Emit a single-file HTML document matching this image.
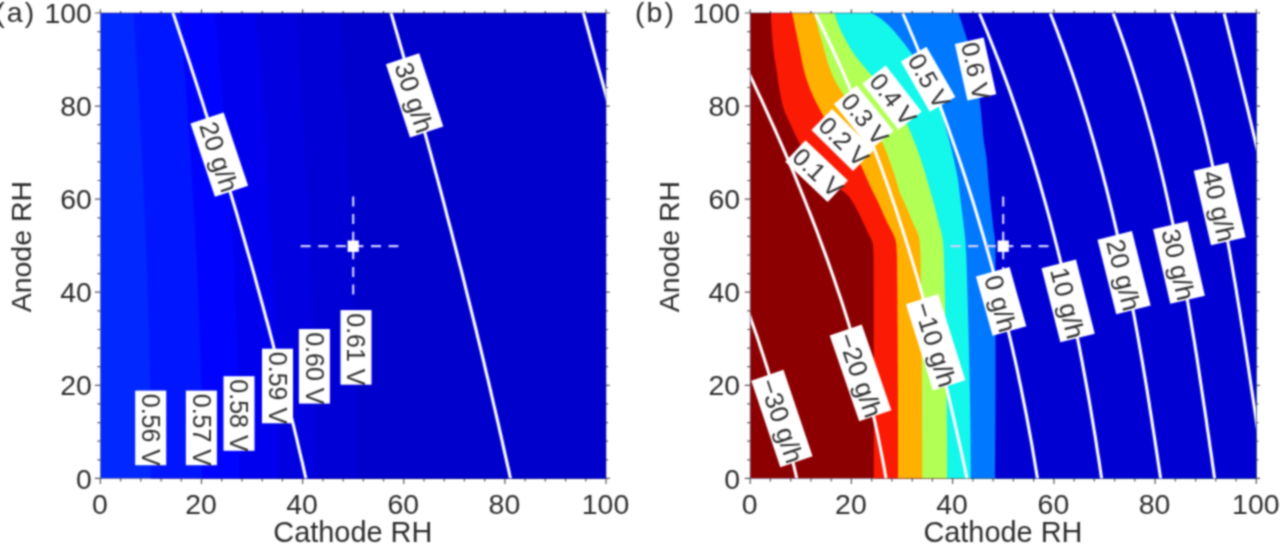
<!DOCTYPE html>
<html lang="en"><head><meta charset="utf-8"><title>Contour maps: cell voltage and water balance vs. cathode / anode RH</title>
<style>html,body{margin:0;padding:0;background:#fff;}body{width:1280px;height:545px;overflow:hidden;}svg{display:block;font-family:'Liberation Sans', sans-serif;}</style></head><body>
<svg width="1280" height="545" viewBox="0 0 1280 545">
<defs>
<clipPath id="ca"><rect x="100.4" y="13" width="505.6" height="465.4"/></clipPath>
<clipPath id="cb"><rect x="750.2" y="13" width="506.1" height="465.4"/></clipPath>
<filter id="soft" x="0" y="0" width="1280" height="545" filterUnits="userSpaceOnUse" color-interpolation-filters="sRGB"><feConvolveMatrix order="5" kernelMatrix="9 69 139 69 9 69 554 1107 554 69 139 1107 2211 1107 139 69 554 1107 554 69 9 69 139 69 9" divisor="9999" edgeMode="duplicate" preserveAlpha="true"/></filter>
</defs>
<g filter="url(#soft)">
<rect x="-10" y="-10" width="1300" height="565" fill="#fff"/>
<g clip-path="url(#ca)">
<rect x="100.4" y="13" width="505.6" height="465.4" fill="#0028ff"/>
<polygon points="133.6,12 134.2,19.9 134.7,27.8 135.2,35.8 135.7,43.7 136.2,51.6 136.6,59.5 137.1,67.5 137.6,75.4 138.1,83.3 138.5,91.2 139,99.1 139.4,107.1 139.9,115 140.3,122.9 140.7,130.8 141.2,138.8 141.6,146.7 142,154.6 142.4,162.5 142.8,170.4 143.2,178.4 143.5,186.3 143.9,194.2 144.3,202.1 144.6,210.1 145,218 145.3,225.9 145.7,233.8 146,241.7 146.3,249.7 146.6,257.6 146.9,265.5 147.2,273.4 147.5,281.3 147.8,289.3 148,297.2 148.3,305.1 148.5,313 148.8,321 149,328.9 149.2,336.8 149.4,344.7 149.6,352.6 149.8,360.6 149.9,368.5 150.1,376.4 150.2,384.3 150.4,392.3 150.5,400.2 150.6,408.1 150.6,416 150.7,423.9 150.7,431.9 150.7,439.8 150.7,447.7 150.7,455.6 150.7,463.6 150.7,471.5 150.7,479.4 608,478.4 608,13" fill="#0016ff"/>
<polygon points="179.6,12 180.3,19.9 180.9,27.8 181.6,35.8 182.2,43.7 182.9,51.6 183.5,59.5 184.1,67.5 184.7,75.4 185.4,83.3 185.9,91.2 186.5,99.1 187.1,107.1 187.7,115 188.3,122.9 188.8,130.8 189.4,138.8 189.9,146.7 190.4,154.6 190.9,162.5 191.4,170.4 191.9,178.4 192.4,186.3 192.9,194.2 193.4,202.1 193.8,210.1 194.3,218 194.7,225.9 195.2,233.8 195.6,241.7 196,249.7 196.4,257.6 196.8,265.5 197.2,273.4 197.5,281.3 197.9,289.3 198.2,297.2 198.6,305.1 198.9,313 199.2,321 199.5,328.9 199.8,336.8 200,344.7 200.3,352.6 200.5,360.6 200.7,368.5 200.9,376.4 201.1,384.3 201.3,392.3 201.4,400.2 201.5,408.1 201.6,416 201.7,423.9 201.7,431.9 201.7,439.8 201.7,447.7 201.7,455.6 201.7,463.6 201.7,471.5 201.7,479.4 608,478.4 608,13" fill="#0004ff"/>
<polygon points="214.9,12 215.6,19.9 216.4,27.8 217.1,35.8 217.8,43.7 218.5,51.6 219.2,59.5 219.8,67.5 220.5,75.4 221.2,83.3 221.8,91.2 222.5,99.1 223.1,107.1 223.7,115 224.3,122.9 224.9,130.8 225.5,138.8 226.1,146.7 226.7,154.6 227.3,162.5 227.8,170.4 228.4,178.4 228.9,186.3 229.4,194.2 229.9,202.1 230.4,210.1 230.9,218 231.4,225.9 231.9,233.8 232.3,241.7 232.8,249.7 233.2,257.6 233.6,265.5 234.1,273.4 234.5,281.3 234.8,289.3 235.2,297.2 235.6,305.1 235.9,313 236.3,321 236.6,328.9 236.9,336.8 237.2,344.7 237.4,352.6 237.7,360.6 237.9,368.5 238.1,376.4 238.3,384.3 238.5,392.3 238.7,400.2 238.8,408.1 238.9,416 239,423.9 239,431.9 239,439.8 239,447.7 239,455.6 239,463.6 239,471.5 239,479.4 608,478.4 608,13" fill="#0000ee"/>
<polygon points="255.4,12 256.1,19.9 256.7,27.8 257.4,35.8 258,43.7 258.7,51.6 259.3,59.5 259.9,67.5 260.5,75.4 261.2,83.3 261.7,91.2 262.3,99.1 262.9,107.1 263.5,115 264.1,122.9 264.6,130.8 265.2,138.8 265.7,146.7 266.2,154.6 266.7,162.5 267.2,170.4 267.7,178.4 268.2,186.3 268.7,194.2 269.2,202.1 269.6,210.1 270.1,218 270.5,225.9 271,233.8 271.4,241.7 271.8,249.7 272.2,257.6 272.6,265.5 273,273.4 273.3,281.3 273.7,289.3 274,297.2 274.4,305.1 274.7,313 275,321 275.3,328.9 275.6,336.8 275.8,344.7 276.1,352.6 276.3,360.6 276.5,368.5 276.7,376.4 276.9,384.3 277.1,392.3 277.2,400.2 277.3,408.1 277.4,416 277.5,423.9 277.5,431.9 277.5,439.8 277.5,447.7 277.5,455.6 277.5,463.6 277.5,471.5 277.5,479.4 608,478.4 608,13" fill="#0000e0"/>
<polygon points="296.3,12 296.9,19.9 297.4,27.8 298,35.8 298.5,43.7 299,51.6 299.5,59.5 300,67.5 300.5,75.4 301,83.3 301.5,91.2 302,99.1 302.5,107.1 302.9,115 303.4,122.9 303.9,130.8 304.3,138.8 304.7,146.7 305.2,154.6 305.6,162.5 306,170.4 306.4,178.4 306.8,186.3 307.2,194.2 307.6,202.1 308,210.1 308.3,218 308.7,225.9 309.1,233.8 309.4,241.7 309.7,249.7 310.1,257.6 310.4,265.5 310.7,273.4 311,281.3 311.3,289.3 311.6,297.2 311.8,305.1 312.1,313 312.3,321 312.6,328.9 312.8,336.8 313,344.7 313.2,352.6 313.4,360.6 313.6,368.5 313.8,376.4 313.9,384.3 314,392.3 314.2,400.2 314.3,408.1 314.3,416 314.4,423.9 314.4,431.9 314.4,439.8 314.4,447.7 314.4,455.6 314.4,463.6 314.4,471.5 314.4,479.4 608,478.4 608,13" fill="#0000d6"/>
<polygon points="339.9,12 340.4,19.9 340.9,27.8 341.4,35.8 341.9,43.7 342.3,51.6 342.8,59.5 343.2,67.5 343.7,75.4 344.1,83.3 344.5,91.2 345,99.1 345.4,107.1 345.8,115 346.2,122.9 346.6,130.8 347,138.8 347.4,146.7 347.8,154.6 348.2,162.5 348.5,170.4 348.9,178.4 349.3,186.3 349.6,194.2 350,202.1 350.3,210.1 350.6,218 350.9,225.9 351.3,233.8 351.6,241.7 351.9,249.7 352.1,257.6 352.4,265.5 352.7,273.4 353,281.3 353.2,289.3 353.5,297.2 353.7,305.1 353.9,313 354.2,321 354.4,328.9 354.6,336.8 354.8,344.7 355,352.6 355.1,360.6 355.3,368.5 355.4,376.4 355.6,384.3 355.7,392.3 355.8,400.2 355.9,408.1 355.9,416 356,423.9 356,431.9 356,439.8 356,447.7 356,455.6 356,463.6 356,471.5 356,479.4 608,478.4 608,13" fill="#0000cd"/>
<polyline points="171.9,10 174,16 176,22.1 178,28.1 180.1,34.2 182.1,40.2 184.1,46.2 186.1,52.3 188.1,58.3 190.1,64.3 192.1,70.4 194.1,76.4 196,82.5 198,88.5 199.9,94.5 201.9,100.6 203.8,106.6 205.7,112.7 207.7,118.7 209.6,124.7 211.5,130.8 213.4,136.8 215.2,142.8 217.1,148.9 219,154.9 220.8,161 222.7,167 224.5,173 226.4,179.1 228.2,185.1 230,191.2 231.8,197.2 233.6,203.2 235.4,209.3 237.2,215.3 238.9,221.3 240.7,227.4 242.4,233.4 244.2,239.5 245.9,245.5 247.6,251.5 249.4,257.6 251.1,263.6 252.8,269.7 254.5,275.7 256.1,281.7 257.8,287.8 259.5,293.8 261.1,299.8 262.8,305.9 264.4,311.9 266,318 267.7,324 269.3,330 270.9,336.1 272.5,342.1 274,348.2 275.6,354.2 277.2,360.2 278.7,366.3 280.3,372.3 281.8,378.3 283.3,384.4 284.9,390.4 286.4,396.5 287.9,402.5 289.4,408.5 290.8,414.6 292.3,420.6 293.8,426.7 295.2,432.7 296.7,438.7 298.1,444.8 299.5,450.8 300.9,456.8 302.4,462.9 303.7,468.9 305.1,475 306.5,481" fill="none" stroke="#fdfdff" stroke-width="3.1"/>
<polyline points="390.2,10 391.9,16 393.7,22.1 395.4,28.1 397.2,34.2 398.9,40.2 400.6,46.2 402.4,52.3 404.1,58.3 405.8,64.3 407.5,70.4 409.2,76.4 410.9,82.5 412.6,88.5 414.3,94.5 416,100.6 417.7,106.6 419.4,112.7 421,118.7 422.7,124.7 424.4,130.8 426,136.8 427.7,142.8 429.3,148.9 431,154.9 432.6,161 434.2,167 435.8,173 437.5,179.1 439.1,185.1 440.7,191.2 442.3,197.2 443.9,203.2 445.5,209.3 447,215.3 448.6,221.3 450.2,227.4 451.8,233.4 453.3,239.5 454.9,245.5 456.4,251.5 458,257.6 459.5,263.6 461.1,269.7 462.6,275.7 464.1,281.7 465.6,287.8 467.1,293.8 468.6,299.8 470.1,305.9 471.6,311.9 473.1,318 474.6,324 476.1,330 477.5,336.1 479,342.1 480.5,348.2 481.9,354.2 483.4,360.2 484.8,366.3 486.2,372.3 487.7,378.3 489.1,384.4 490.5,390.4 491.9,396.5 493.3,402.5 494.7,408.5 496.1,414.6 497.5,420.6 498.9,426.7 500.2,432.7 501.6,438.7 503,444.8 504.3,450.8 505.7,456.8 507,462.9 508.4,468.9 509.7,475 511,481" fill="none" stroke="#fdfdff" stroke-width="3.1"/>
<polyline points="582.6,10 584.3,16.2 586,22.3 587.7,28.5 589.4,34.7 591,40.8 592.7,47 594.4,53.2 596.1,59.3 597.8,65.5 599.5,71.7 601.2,77.8 602.9,84 604.6,90.2 606.2,96.3 607.9,102.5 609.6,108.7 611.3,114.8 613,121" fill="none" stroke="#fdfdff" stroke-width="3.1"/>
<g stroke="#d0d0ff" stroke-width="2.2" stroke-dasharray="10 7.6" fill="none">
<path d="M300.6 246.2H398.4"/>
<path d="M353.2 196.5V294.4"/>
</g>
<rect x="347.6" y="240.5" width="11.2" height="11.4" fill="#fff"/>
<g transform="translate(150.7 427.9) rotate(90)">
<rect x="-37.3" y="-15.5" width="74.6" height="31" fill="#fff"/>
<text x="2" y="8.8" font-size="25" text-anchor="middle" fill="#2e2e2e">0.56 V</text>
</g>
<g transform="translate(201.4 427.9) rotate(90)">
<rect x="-37.3" y="-15.5" width="74.6" height="31" fill="#fff"/>
<text x="2" y="8.8" font-size="25" text-anchor="middle" fill="#2e2e2e">0.57 V</text>
</g>
<g transform="translate(239 413.5) rotate(90)">
<rect x="-37.3" y="-15.5" width="74.6" height="31" fill="#fff"/>
<text x="2" y="8.8" font-size="25" text-anchor="middle" fill="#2e2e2e">0.58 V</text>
</g>
<g transform="translate(277.5 386) rotate(90)">
<rect x="-37.3" y="-15.5" width="74.6" height="31" fill="#fff"/>
<text x="2" y="8.8" font-size="25" text-anchor="middle" fill="#2e2e2e">0.59 V</text>
</g>
<g transform="translate(314.4 366.3) rotate(90)">
<rect x="-37.3" y="-15.5" width="74.6" height="31" fill="#fff"/>
<text x="2" y="8.8" font-size="25" text-anchor="middle" fill="#2e2e2e">0.60 V</text>
</g>
<g transform="translate(356 347.4) rotate(90)">
<rect x="-37.3" y="-15.5" width="74.6" height="31" fill="#fff"/>
<text x="2" y="8.8" font-size="25" text-anchor="middle" fill="#2e2e2e">0.61 V</text>
</g>
<g transform="translate(219.3 154.6) rotate(71.5)">
<rect x="-38.6" y="-17.5" width="77.2" height="35" fill="#fff"/>
<text x="2" y="10.1" font-size="26" text-anchor="middle" fill="#2e2e2e">20 g/h</text>
</g>
<g transform="translate(414.6 95.4) rotate(71.8)">
<rect x="-38.6" y="-17.5" width="77.2" height="35" fill="#fff"/>
<text x="2" y="10.1" font-size="26" text-anchor="middle" fill="#2e2e2e">30 g/h</text>
</g>
</g>
<path d="M100.4 478.4v5.5M100.4 13v-3.8M100.4 478.4h-5.5M606 478.4h3.8M120.6 478.4v3M120.6 13v-2.1M100.4 459.8h-3M606 459.8h2.1M140.8 478.4v3M140.8 13v-2.1M100.4 441.2h-3M606 441.2h2.1M161.1 478.4v3M161.1 13v-2.1M100.4 422.6h-3M606 422.6h2.1M181.3 478.4v3M181.3 13v-2.1M100.4 403.9h-3M606 403.9h2.1M201.5 478.4v5.5M201.5 13v-3.8M100.4 385.3h-5.5M606 385.3h3.8M221.7 478.4v3M221.7 13v-2.1M100.4 366.7h-3M606 366.7h2.1M242 478.4v3M242 13v-2.1M100.4 348.1h-3M606 348.1h2.1M262.2 478.4v3M262.2 13v-2.1M100.4 329.5h-3M606 329.5h2.1M282.4 478.4v3M282.4 13v-2.1M100.4 310.9h-3M606 310.9h2.1M302.6 478.4v5.5M302.6 13v-3.8M100.4 292.2h-5.5M606 292.2h3.8M322.9 478.4v3M322.9 13v-2.1M100.4 273.6h-3M606 273.6h2.1M343.1 478.4v3M343.1 13v-2.1M100.4 255h-3M606 255h2.1M363.3 478.4v3M363.3 13v-2.1M100.4 236.4h-3M606 236.4h2.1M383.5 478.4v3M383.5 13v-2.1M100.4 217.8h-3M606 217.8h2.1M403.8 478.4v5.5M403.8 13v-3.8M100.4 199.2h-5.5M606 199.2h3.8M424 478.4v3M424 13v-2.1M100.4 180.5h-3M606 180.5h2.1M444.2 478.4v3M444.2 13v-2.1M100.4 161.9h-3M606 161.9h2.1M464.4 478.4v3M464.4 13v-2.1M100.4 143.3h-3M606 143.3h2.1M484.7 478.4v3M484.7 13v-2.1M100.4 124.7h-3M606 124.7h2.1M504.9 478.4v5.5M504.9 13v-3.8M100.4 106.1h-5.5M606 106.1h3.8M525.1 478.4v3M525.1 13v-2.1M100.4 87.5h-3M606 87.5h2.1M545.3 478.4v3M545.3 13v-2.1M100.4 68.8h-3M606 68.8h2.1M565.6 478.4v3M565.6 13v-2.1M100.4 50.2h-3M606 50.2h2.1M585.8 478.4v3M585.8 13v-2.1M100.4 31.6h-3M606 31.6h2.1M606 478.4v5.5M606 13v-3.8M100.4 13h-5.5M606 13h3.8" stroke="#555" stroke-width="1.2" fill="none"/>
<rect x="100.4" y="13" width="505.6" height="465.4" fill="none" stroke="#101040" stroke-opacity="0.55" stroke-width="0.8"/>
<g font-size="28.4" fill="#2b2b2b">
<text x="99.9" y="514.3" text-anchor="middle">0</text>
<text x="91.8" y="488.5" text-anchor="end">0</text>
<text x="201" y="514.3" text-anchor="middle">20</text>
<text x="91.8" y="395.4" text-anchor="end">20</text>
<text x="302.1" y="514.3" text-anchor="middle">40</text>
<text x="91.8" y="302.3" text-anchor="end">40</text>
<text x="403.3" y="514.3" text-anchor="middle">60</text>
<text x="91.8" y="209.3" text-anchor="end">60</text>
<text x="504.4" y="514.3" text-anchor="middle">80</text>
<text x="91.8" y="116.2" text-anchor="end">80</text>
<text x="605.5" y="514.3" text-anchor="middle">100</text>
<text x="91.8" y="23.1" text-anchor="end">100</text>
</g>
<text x="352.8" y="542.2" font-size="28.9" text-anchor="middle" fill="#2b2b2b">Cathode RH</text>
<text transform="translate(30.5 246.6) rotate(-90)" font-size="28.5" text-anchor="middle" fill="#2b2b2b">Anode RH</text>
<text x="-4.8" y="21.8" font-size="28.5" letter-spacing="2.1" fill="#2b2b2b">(a)</text>
<g clip-path="url(#cb)">
<rect x="750.2" y="13" width="506.1" height="465.4" fill="#8c0002"/>
<polygon points="771,12 771,16 771.2,20 771.3,24 771.6,28 771.8,32 772.1,36 772.5,40 772.8,44 773.2,48 773.6,51.9 774.1,55.9 774.8,59.9 775.5,63.9 776.2,67.9 776.8,71.9 777.4,75.9 777.9,79.9 778.5,83.9 779.1,87.9 779.8,91.9 780.6,95.9 781.4,99.9 782.3,103.9 783.4,107.9 784.7,111.9 786.5,115.9 788.5,119.9 790.3,123.9 792.1,127.9 793.9,131.8 795.7,135.8 797.7,139.8 799.7,143.8 801.7,147.8 803.8,151.8 806,155.8 808.3,159.8 810.9,163.8 813.8,167.8 817.1,171.8 821.7,175.8 827.3,179.8 833,183.8 838.4,187.8 843.8,191.8 848.3,195.8 851.3,199.8 853.7,203.8 855.9,207.7 858,211.7 860,215.7 861.9,219.7 863.8,223.7 865.6,227.7 867.4,231.7 869.4,235.7 871.4,239.7 872.8,243.7 873.2,247.7 873.4,251.7 873.5,255.7 873.6,259.7 873.6,263.7 873.6,267.7 873.6,271.7 873.6,275.7 873.6,279.7 873.6,283.7 873.7,287.6 873.7,291.6 873.7,295.6 873.7,299.6 873.7,303.6 873.7,307.6 873.7,311.6 873.7,315.6 873.7,319.6 873.7,323.6 873.7,327.6 873.7,331.6 873.7,335.6 873.7,339.6 873.7,343.6 873.7,347.6 873.8,351.6 873.8,355.6 873.8,359.6 873.8,363.5 873.8,367.5 873.8,371.5 873.8,375.5 873.8,379.5 873.8,383.5 873.8,387.5 873.8,391.5 873.8,395.5 873.8,399.5 873.8,403.5 873.8,407.5 873.8,411.5 873.8,415.5 873.8,419.5 873.8,423.5 873.8,427.5 873.8,431.5 873.8,435.5 873.8,439.5 873.8,443.4 873.8,447.4 873.8,451.4 873.8,455.4 873.8,459.4 873.8,463.4 873.8,467.4 873.8,471.4 873.8,475.4 873.8,479.4 1258.3,479.4 1258.3,12" fill="#fb1a04"/>
<polygon points="791.9,12 792.7,16 793.6,20 794.4,24 795.2,28 796.1,32 796.9,36 797.7,40 798.6,44 799.4,48 800.2,51.9 801,55.9 801.7,59.9 802.5,63.9 803.4,67.9 804.4,71.9 805.5,75.9 806.8,79.9 808.2,83.9 809.7,87.9 811.3,91.9 813,95.9 814.9,99.9 817,103.9 819.1,107.9 821.2,111.9 823.4,115.9 825.9,119.9 828.8,123.9 832,127.9 835.5,131.8 839,135.8 842.4,139.8 845.7,143.8 849.2,147.8 852.6,151.8 855.6,155.8 858.1,159.8 860.1,163.8 862,167.8 863.8,171.8 865.6,175.8 867.3,179.8 869.1,183.8 870.9,187.8 872.9,191.8 874.9,195.8 876.9,199.8 878.8,203.8 880.6,207.7 882.4,211.7 884.1,215.7 885.9,219.7 887.8,223.7 890,227.7 892.1,231.7 894,235.7 895.5,239.7 896.3,243.7 896.5,247.7 896.7,251.7 896.9,255.7 897,259.7 897,263.7 897.1,267.7 897.1,271.7 897.1,275.7 897.2,279.7 897.2,283.7 897.3,287.6 897.3,291.6 897.3,295.6 897.4,299.6 897.4,303.6 897.4,307.6 897.4,311.6 897.5,315.6 897.5,319.6 897.5,323.6 897.6,327.6 897.6,331.6 897.6,335.6 897.6,339.6 897.7,343.6 897.7,347.6 897.7,351.6 897.7,355.6 897.7,359.6 897.8,363.5 897.8,367.5 897.8,371.5 897.8,375.5 897.8,379.5 897.8,383.5 897.9,387.5 897.9,391.5 897.9,395.5 897.9,399.5 897.9,403.5 897.9,407.5 897.9,411.5 897.9,415.5 897.9,419.5 898,423.5 898,427.5 898,431.5 898,435.5 898,439.5 898,443.4 898,447.4 898,451.4 898,455.4 898,459.4 898,463.4 898,467.4 898,471.4 898,475.4 898,479.4 1258.3,479.4 1258.3,12" fill="#ffb000"/>
<polygon points="813.7,12 814.8,16 815.9,20 817,24 818.1,28 819.2,32 820.3,36 821.4,40 822.6,44 823.6,48 824.7,51.9 825.8,55.9 826.9,59.9 828.2,63.9 829.5,67.9 831.1,71.9 832.8,75.9 834.7,79.9 836.9,83.9 839.2,87.9 841.8,91.9 844.7,95.9 848.1,99.9 851.6,103.9 855.3,107.9 858.9,111.9 862.4,115.9 865.6,119.9 869,123.9 872.4,127.9 875.6,131.8 878.5,135.8 880.9,139.8 882.9,143.8 884.6,147.8 886.2,151.8 887.7,155.8 889.1,159.8 890.6,163.8 892,167.8 893.4,171.8 894.7,175.8 895.9,179.8 897.1,183.8 898.2,187.8 899.4,191.8 901.1,195.8 903,199.8 904.8,203.8 906.5,207.7 908.2,211.7 909.9,215.7 911.6,219.7 913.2,223.7 915.1,227.7 917,231.7 918.5,235.7 919.5,239.7 919.9,243.7 920.1,247.7 920.3,251.7 920.5,255.7 920.6,259.7 920.6,263.7 920.7,267.7 920.7,271.7 920.8,275.7 920.9,279.7 920.9,283.7 921,287.6 921,291.6 921.1,295.6 921.1,299.6 921.2,303.6 921.2,307.6 921.3,311.6 921.3,315.6 921.4,319.6 921.4,323.6 921.5,327.6 921.5,331.6 921.5,335.6 921.6,339.6 921.6,343.6 921.6,347.6 921.7,351.6 921.7,355.6 921.7,359.6 921.8,363.5 921.8,367.5 921.8,371.5 921.9,375.5 921.9,379.5 921.9,383.5 921.9,387.5 922,391.5 922,395.5 922,399.5 922,403.5 922,407.5 922.1,411.5 922.1,415.5 922.1,419.5 922.1,423.5 922.1,427.5 922.1,431.5 922.1,435.5 922.2,439.5 922.2,443.4 922.2,447.4 922.2,451.4 922.2,455.4 922.2,459.4 922.2,463.4 922.2,467.4 922.2,471.4 922.2,475.4 922.2,479.4 1258.3,479.4 1258.3,12" fill="#b2ff55"/>
<polygon points="834.1,12 835.3,16 836.6,20 838.1,24 839.8,28 841.6,32 843.6,36 845.7,40 847.9,44 850.2,48 852.7,51.9 855.5,55.9 858.6,59.9 861.9,63.9 865.2,67.9 868.5,71.9 872.2,75.9 876,79.9 879.9,83.9 883.8,87.9 887.4,91.9 890.7,95.9 893.5,99.9 896.1,103.9 898.5,107.9 900.8,111.9 902.9,115.9 904.9,119.9 906.8,123.9 908.6,127.9 910.3,131.8 911.9,135.8 913.5,139.8 915.1,143.8 916.6,147.8 918.1,151.8 919.6,155.8 921,159.8 922.3,163.8 923.5,167.8 924.7,171.8 925.9,175.8 927,179.8 928.2,183.8 929.3,187.8 930.5,191.8 931.7,195.8 932.8,199.8 933.9,203.8 935,207.7 936,211.7 937,215.7 937.9,219.7 939,223.7 940.1,227.7 941.1,231.7 942.1,235.7 942.8,239.7 943.1,243.7 943.4,247.7 943.6,251.7 943.8,255.7 943.9,259.7 944,263.7 944.1,267.7 944.3,271.7 944.4,275.7 944.5,279.7 944.5,283.7 944.6,287.6 944.7,291.6 944.8,295.6 944.9,299.6 945,303.6 945.1,307.6 945.2,311.6 945.3,315.6 945.4,319.6 945.4,323.6 945.5,327.6 945.6,331.6 945.7,335.6 945.8,339.6 945.8,343.6 945.9,347.6 946,351.6 946,355.6 946.1,359.6 946.2,363.5 946.2,367.5 946.3,371.5 946.3,375.5 946.4,379.5 946.5,383.5 946.5,387.5 946.6,391.5 946.6,395.5 946.6,399.5 946.7,403.5 946.7,407.5 946.8,411.5 946.8,415.5 946.8,419.5 946.9,423.5 946.9,427.5 946.9,431.5 947,435.5 947,439.5 947,443.4 947,447.4 947,451.4 947.1,455.4 947.1,459.4 947.1,463.4 947.1,467.4 947.1,471.4 947.1,475.4 947.1,479.4 1258.3,479.4 1258.3,12" fill="#14f7eb"/>
<polygon points="870.4,12 876.8,16 882.5,20 887.2,24 891.2,28 894.8,32 898.1,36 901.4,40 904.6,44 907.5,48 910.4,51.9 913.3,55.9 916.1,59.9 918.9,63.9 921.5,67.9 924,71.9 926.3,75.9 928.5,79.9 930.4,83.9 932.3,87.9 934,91.9 935.6,95.9 937.2,99.9 938.6,103.9 940,107.9 941.3,111.9 942.5,115.9 943.6,119.9 944.7,123.9 945.8,127.9 946.9,131.8 948,135.8 949,139.8 950.1,143.8 951.1,147.8 952.1,151.8 953,155.8 954,159.8 954.8,163.8 955.7,167.8 956.5,171.8 957.3,175.8 958,179.8 958.5,183.8 959.1,187.8 959.5,191.8 960,195.8 960.5,199.8 961,203.8 961.5,207.7 962,211.7 962.5,215.7 963,219.7 963.5,223.7 964,227.7 964.5,231.7 964.9,235.7 965.3,239.7 965.6,243.7 965.8,247.7 966.1,251.7 966.3,255.7 966.4,259.7 966.6,263.7 966.7,267.7 966.8,271.7 966.9,275.7 967.1,279.7 967.2,283.7 967.3,287.6 967.4,291.6 967.6,295.6 967.7,299.6 967.8,303.6 967.9,307.6 968,311.6 968.1,315.6 968.2,319.6 968.4,323.6 968.5,327.6 968.6,331.6 968.7,335.6 968.8,339.6 968.9,343.6 969,347.6 969.1,351.6 969.2,355.6 969.2,359.6 969.3,363.5 969.4,367.5 969.5,371.5 969.6,375.5 969.7,379.5 969.7,383.5 969.8,387.5 969.9,391.5 970,395.5 970,399.5 970.1,403.5 970.2,407.5 970.2,411.5 970.3,415.5 970.3,419.5 970.4,423.5 970.4,427.5 970.5,431.5 970.5,435.5 970.5,439.5 970.6,443.4 970.6,447.4 970.6,451.4 970.6,455.4 970.7,459.4 970.7,463.4 970.7,467.4 970.7,471.4 970.7,475.4 970.7,479.4 1258.3,479.4 1258.3,12" fill="#0078ff"/>
<polygon points="957.9,12 959.4,16 960.7,20 962.1,24 963.4,28 964.7,32 966,36 967.3,40 968.5,44 969.8,48 971.1,51.9 972.3,55.9 973.4,59.9 974.4,63.9 975.3,67.9 976,71.9 976.6,75.9 977.2,79.9 977.8,83.9 978.3,87.9 978.8,91.9 979.3,95.9 979.7,99.9 980.1,103.9 980.6,107.9 981,111.9 981.4,115.9 981.8,119.9 982.1,123.9 982.5,127.9 982.8,131.8 983.2,135.8 983.7,139.8 984.2,143.8 984.9,147.8 985.5,151.8 986.2,155.8 986.7,159.8 987.1,163.8 987.4,167.8 987.7,171.8 988,175.8 988.3,179.8 988.6,183.8 989,187.8 989.4,191.8 989.8,195.8 990.2,199.8 990.7,203.8 991.1,207.7 991.5,211.7 992,215.7 992.4,219.7 992.9,223.7 993.3,227.7 993.9,231.7 994.5,235.7 995,239.7 995.3,243.7 995.5,247.7 995.5,251.7 995.5,255.7 995.5,259.7 995.5,263.7 995.5,267.7 995.5,271.7 995.5,275.7 995.5,279.7 995.5,283.7 995.5,287.6 995.5,291.6 995.5,295.6 995.5,299.6 995.5,303.6 995.5,307.6 995.5,311.6 995.5,315.6 995.5,319.6 995.5,323.6 995.5,327.6 995.5,331.6 995.5,335.6 995.5,339.6 995.5,343.6 995.5,347.6 995.5,351.6 995.5,355.6 995.5,359.6 995.5,363.5 995.5,367.5 995.5,371.5 995.5,375.5 995.5,379.5 995.5,383.5 995.5,387.5 995.5,391.5 995.5,395.5 995.4,399.5 995.4,403.5 995.4,407.5 995.4,411.5 995.4,415.5 995.4,419.5 995.3,423.5 995.3,427.5 995.3,431.5 995.3,435.5 995.3,439.5 995.2,443.4 995.2,447.4 995.2,451.4 995.2,455.4 995.1,459.4 995.1,463.4 995.1,467.4 995,471.4 995,475.4 995,479.4 1258.3,479.4 1258.3,12" fill="#0000d3"/>
<polyline points="744.8,302 747,308 749.1,313.9 751.2,319.9 753.3,325.9 755.3,331.8 757.4,337.8 759.4,343.8 761.3,349.7 763.3,355.7 765.2,361.7 767.1,367.6 768.9,373.6 770.7,379.6 772.5,385.5 774.3,391.5 776,397.5 777.7,403.4 779.4,409.4 781,415.4 782.7,421.3 784.3,427.3 785.8,433.3 787.4,439.2 788.9,445.2 790.3,451.2 791.8,457.1 793.2,463.1 794.6,469.1 796,475 797.3,481" fill="none" stroke="#fdfdff" stroke-width="3.1"/>
<polyline points="744.5,64 747.4,70 750.2,75.9 753.1,81.9 755.8,87.8 758.6,93.8 761.4,99.7 764.1,105.7 766.8,111.7 769.5,117.6 772.2,123.6 774.9,129.5 777.5,135.5 780.1,141.4 782.7,147.4 785.3,153.4 787.9,159.3 790.4,165.3 792.9,171.2 795.4,177.2 797.8,183.1 800.3,189.1 802.7,195.1 805.1,201 807.4,207 809.8,212.9 812.1,218.9 814.4,224.8 816.7,230.8 818.9,236.8 821.1,242.7 823.3,248.7 825.5,254.6 827.6,260.6 829.7,266.5 831.8,272.5 833.9,278.5 835.9,284.4 837.9,290.4 839.9,296.3 841.9,302.3 843.8,308.2 845.7,314.2 847.6,320.2 849.4,326.1 851.2,332.1 853,338 854.7,344 856.5,349.9 858.2,355.9 859.8,361.9 861.5,367.8 863.1,373.8 864.6,379.7 866.2,385.7 867.7,391.6 869.2,397.6 870.6,403.6 872,409.5 873.4,415.5 874.8,421.4 876.1,427.4 877.4,433.3 878.6,439.3 879.8,445.3 881,451.2 882.2,457.2 883.3,463.1 884.4,469.1 885.4,475 886.5,481" fill="none" stroke="#fdfdff" stroke-width="3.1"/>
<polyline points="815.5,13.5 818.5,19.5 821.4,25.5 824.3,31.5 827.1,37.5 829.9,43.5 832.7,49.5 835.4,55.5 838.1,61.4 840.8,67.4 843.5,73.4 846.1,79.4 848.7,85.4 851.2,91.4 853.8,97.4 856.3,103.4 858.7,109.4 861.2,115.4 863.6,121.4 866,127.4 868.3,133.4 870.6,139.4 872.9,145.4 875.2,151.4 877.4,157.3 879.7,163.3 881.9,169.3 884,175.3 886.2,181.3 888.3,187.3 890.4,193.3 892.4,199.3 894.5,205.3 896.5,211.3 898.5,217.3 900.4,223.3 902.4,229.3 904.3,235.3 906.2,241.3 908.1,247.2 909.9,253.2 911.8,259.2 913.6,265.2 915.4,271.2 917.2,277.2 918.9,283.2 920.6,289.2 922.3,295.2 924,301.2 925.7,307.2 927.4,313.2 929,319.2 930.6,325.2 932.2,331.2 933.8,337.2 935.4,343.1 936.9,349.1 938.5,355.1 940,361.1 941.5,367.1 943,373.1 944.5,379.1 945.9,385.1 947.4,391.1 948.8,397.1 950.2,403.1 951.6,409.1 953,415.1 954.4,421.1 955.7,427.1 957.1,433.1 958.4,439 959.8,445 961.1,451 962.4,457 963.7,463 965,469 966.2,475 967.5,481" fill="none" stroke="#fdfdff" stroke-width="3.1"/>
<polyline points="902.8,13.5 905.4,19.5 908,25.5 910.5,31.5 913.1,37.5 915.6,43.5 918,49.5 920.5,55.5 922.9,61.4 925.3,67.4 927.7,73.4 930,79.4 932.4,85.4 934.7,91.4 936.9,97.4 939.2,103.4 941.4,109.4 943.6,115.4 945.8,121.4 948,127.4 950.1,133.4 952.2,139.4 954.3,145.4 956.4,151.4 958.5,157.3 960.5,163.3 962.5,169.3 964.5,175.3 966.4,181.3 968.4,187.3 970.3,193.3 972.2,199.3 974.1,205.3 975.9,211.3 977.7,217.3 979.5,223.3 981.3,229.3 983.1,235.3 984.8,241.3 986.5,247.2 988.2,253.2 989.9,259.2 991.6,265.2 993.2,271.2 994.8,277.2 996.4,283.2 998,289.2 999.5,295.2 1001.1,301.2 1002.6,307.2 1004.1,313.2 1005.5,319.2 1007,325.2 1008.4,331.2 1009.8,337.2 1011.2,343.1 1012.6,349.1 1013.9,355.1 1015.3,361.1 1016.6,367.1 1017.9,373.1 1019.1,379.1 1020.4,385.1 1021.6,391.1 1022.8,397.1 1024,403.1 1025.2,409.1 1026.4,415.1 1027.5,421.1 1028.6,427.1 1029.7,433.1 1030.8,439 1031.9,445 1032.9,451 1033.9,457 1034.9,463 1035.9,469 1036.9,475 1037.9,481" fill="none" stroke="#fdfdff" stroke-width="3.1"/>
<polyline points="979.5,13.5 982,19.5 984.5,25.5 987,31.5 989.4,37.5 991.8,43.5 994.2,49.5 996.5,55.5 998.9,61.4 1001.1,67.4 1003.4,73.4 1005.6,79.4 1007.8,85.4 1010,91.4 1012.1,97.4 1014.2,103.4 1016.3,109.4 1018.3,115.4 1020.4,121.4 1022.4,127.4 1024.3,133.4 1026.3,139.4 1028.2,145.4 1030.1,151.4 1032,157.3 1033.8,163.3 1035.6,169.3 1037.4,175.3 1039.2,181.3 1040.9,187.3 1042.6,193.3 1044.3,199.3 1046,205.3 1047.6,211.3 1049.3,217.3 1050.9,223.3 1052.4,229.3 1054,235.3 1055.5,241.3 1057,247.2 1058.5,253.2 1060,259.2 1061.4,265.2 1062.9,271.2 1064.3,277.2 1065.7,283.2 1067,289.2 1068.4,295.2 1069.7,301.2 1071,307.2 1072.3,313.2 1073.6,319.2 1074.8,325.2 1076.1,331.2 1077.3,337.2 1078.5,343.1 1079.7,349.1 1080.8,355.1 1082,361.1 1083.1,367.1 1084.2,373.1 1085.3,379.1 1086.4,385.1 1087.5,391.1 1088.6,397.1 1089.6,403.1 1090.6,409.1 1091.6,415.1 1092.6,421.1 1093.6,427.1 1094.6,433.1 1095.6,439 1096.5,445 1097.4,451 1098.4,457 1099.3,463 1100.2,469 1101.1,475 1101.9,481" fill="none" stroke="#fdfdff" stroke-width="3.1"/>
<polyline points="1050.3,13.5 1052.7,19.5 1055,25.5 1057.3,31.5 1059.5,37.5 1061.8,43.5 1063.9,49.5 1066.1,55.5 1068.2,61.4 1070.3,67.4 1072.4,73.4 1074.4,79.4 1076.4,85.4 1078.4,91.4 1080.3,97.4 1082.2,103.4 1084.1,109.4 1086,115.4 1087.8,121.4 1089.6,127.4 1091.3,133.4 1093.1,139.4 1094.8,145.4 1096.5,151.4 1098.1,157.3 1099.8,163.3 1101.4,169.3 1103,175.3 1104.5,181.3 1106.1,187.3 1107.6,193.3 1109.1,199.3 1110.5,205.3 1112,211.3 1113.4,217.3 1114.8,223.3 1116.2,229.3 1117.5,235.3 1118.9,241.3 1120.2,247.2 1121.5,253.2 1122.8,259.2 1124.1,265.2 1125.3,271.2 1126.5,277.2 1127.8,283.2 1129,289.2 1130.1,295.2 1131.3,301.2 1132.4,307.2 1133.6,313.2 1134.7,319.2 1135.8,325.2 1136.9,331.2 1138,337.2 1139,343.1 1140.1,349.1 1141.1,355.1 1142.2,361.1 1143.2,367.1 1144.2,373.1 1145.2,379.1 1146.2,385.1 1147.2,391.1 1148.1,397.1 1149.1,403.1 1150,409.1 1151,415.1 1151.9,421.1 1152.8,427.1 1153.8,433.1 1154.7,439 1155.6,445 1156.5,451 1157.4,457 1158.3,463 1159.2,469 1160.1,475 1161,481" fill="none" stroke="#fdfdff" stroke-width="3.1"/>
<polyline points="1113.2,13.5 1115.4,19.5 1117.6,25.5 1119.8,31.5 1121.9,37.5 1124,43.5 1126.1,49.5 1128.1,55.5 1130.1,61.4 1132,67.4 1133.9,73.4 1135.8,79.4 1137.7,85.4 1139.5,91.4 1141.3,97.4 1143.1,103.4 1144.8,109.4 1146.5,115.4 1148.2,121.4 1149.8,127.4 1151.5,133.4 1153.1,139.4 1154.6,145.4 1156.2,151.4 1157.7,157.3 1159.2,163.3 1160.6,169.3 1162.1,175.3 1163.5,181.3 1164.9,187.3 1166.2,193.3 1167.6,199.3 1168.9,205.3 1170.2,211.3 1171.5,217.3 1172.8,223.3 1174,229.3 1175.2,235.3 1176.4,241.3 1177.6,247.2 1178.8,253.2 1180,259.2 1181.1,265.2 1182.2,271.2 1183.3,277.2 1184.4,283.2 1185.5,289.2 1186.5,295.2 1187.6,301.2 1188.6,307.2 1189.6,313.2 1190.6,319.2 1191.6,325.2 1192.6,331.2 1193.6,337.2 1194.6,343.1 1195.5,349.1 1196.5,355.1 1197.4,361.1 1198.3,367.1 1199.2,373.1 1200.1,379.1 1201,385.1 1201.9,391.1 1202.8,397.1 1203.7,403.1 1204.6,409.1 1205.5,415.1 1206.4,421.1 1207.2,427.1 1208.1,433.1 1209,439 1209.8,445 1210.7,451 1211.6,457 1212.4,463 1213.3,469 1214.1,475 1215,481" fill="none" stroke="#fdfdff" stroke-width="3.1"/>
<polyline points="1171.7,13.5 1173.6,19.5 1175.6,25.5 1177.4,31.5 1179.3,37.5 1181.1,43.5 1182.9,49.5 1184.7,55.5 1186.4,61.4 1188.1,67.4 1189.8,73.4 1191.5,79.4 1193.1,85.4 1194.7,91.4 1196.3,97.4 1197.8,103.4 1199.4,109.4 1200.9,115.4 1202.4,121.4 1203.8,127.4 1205.3,133.4 1206.7,139.4 1208.1,145.4 1209.4,151.3 1210.8,157.3 1212.1,163.3 1213.4,169.3 1214.7,175.3 1216,181.3 1217.2,187.3 1218.4,193.3 1219.7,199.3 1220.9,205.3 1222,211.3 1223.2,217.3 1224.3,223.3 1225.5,229.3 1226.6,235.3 1227.7,241.2 1228.8,247.2 1229.9,253.2 1230.9,259.2 1232,265.2 1233,271.2 1234,277.2 1235.1,283.2 1236.1,289.2 1237,295.2 1238,301.2 1239,307.2 1240,313.2 1240.9,319.2 1241.9,325.2 1242.8,331.1 1243.8,337.1 1244.7,343.1 1245.6,349.1 1246.5,355.1 1247.4,361.1 1248.3,367.1 1249.2,373.1 1250.1,379.1 1251,385.1 1251.9,391.1 1252.8,397.1 1253.7,403.1 1254.6,409.1 1255.5,415.1 1256.3,421 1257.2,427 1258.1,433 1259,439 1259.9,445 1260.8,451 1261.7,457 1262.5,463" fill="none" stroke="#fdfdff" stroke-width="3.1"/>
<polyline points="1224.1,13.5 1225.6,19.4 1227.1,25.3 1228.5,31.2 1230,37.1 1231.5,43 1232.9,48.9 1234.4,54.9 1235.9,60.8 1237.3,66.7 1238.7,72.6 1240.2,78.5 1241.6,84.4 1243.1,90.3 1244.5,96.2 1245.9,102.1 1247.4,108 1248.8,113.9 1250.2,119.8 1251.6,125.7 1253,131.6 1254.4,137.6 1255.8,143.5 1257.2,149.4 1258.6,155.3 1260,161.2 1261.4,167.1 1262.7,173" fill="none" stroke="#fdfdff" stroke-width="3.1"/>
<g stroke="#d0d0ff" stroke-width="2.2" stroke-dasharray="10 7.6" fill="none">
<path d="M950.6 246.2H1048.5"/>
<path d="M1003.2 196.5V294.4"/>
</g>
<rect x="997.6" y="240.5" width="11.2" height="11.4" fill="#fff"/>
<g transform="translate(816.5 171.1) rotate(43.5)">
<rect x="-29.2" y="-14.8" width="58.5" height="29.5" fill="#fff"/>
<text x="2" y="8.8" font-size="25" text-anchor="middle" fill="#2e2e2e">0.1 V</text>
</g>
<g transform="translate(842.5 140) rotate(44.6)">
<rect x="-29.2" y="-14.8" width="58.5" height="29.5" fill="#fff"/>
<text x="2" y="8.8" font-size="25" text-anchor="middle" fill="#2e2e2e">0.2 V</text>
</g>
<g transform="translate(863.7 117.5) rotate(51)">
<rect x="-29.2" y="-14.8" width="58.5" height="29.5" fill="#fff"/>
<text x="2" y="8.8" font-size="25" text-anchor="middle" fill="#2e2e2e">0.3 V</text>
</g>
<g transform="translate(892 97.7) rotate(52)">
<rect x="-29.2" y="-14.8" width="58.5" height="29.5" fill="#fff"/>
<text x="2" y="8.8" font-size="25" text-anchor="middle" fill="#2e2e2e">0.4 V</text>
</g>
<g transform="translate(928.1 79.2) rotate(60.1)">
<rect x="-29" y="-14.8" width="58" height="29.5" fill="#fff"/>
<text x="2" y="8.8" font-size="25" text-anchor="middle" fill="#2e2e2e">0.5 V</text>
</g>
<g transform="translate(975.5 69.1) rotate(77.4)">
<rect x="-29" y="-14.8" width="58" height="29.5" fill="#fff"/>
<text x="2" y="8.8" font-size="25" text-anchor="middle" fill="#2e2e2e">0.6 V</text>
</g>
<g transform="translate(781.9 418.5) rotate(71.4)">
<rect x="-45.6" y="-17" width="91.2" height="34" fill="#fff"/>
<text x="2" y="10.1" font-size="26" text-anchor="middle" fill="#2e2e2e">−30 g/h</text>
</g>
<g transform="translate(860.5 372.9) rotate(71)">
<rect x="-45.4" y="-17" width="90.8" height="34" fill="#fff"/>
<text x="2" y="10.1" font-size="26" text-anchor="middle" fill="#2e2e2e">−20 g/h</text>
</g>
<g transform="translate(935.6 342.2) rotate(72.6)">
<rect x="-45.2" y="-17" width="90.4" height="34" fill="#fff"/>
<text x="2" y="10.1" font-size="26" text-anchor="middle" fill="#2e2e2e">−10 g/h</text>
</g>
<g transform="translate(1001.1 301.4) rotate(74.2)">
<rect x="-30.7" y="-17.5" width="61.4" height="35" fill="#fff"/>
<text x="2" y="10.1" font-size="26" text-anchor="middle" fill="#2e2e2e">0 g/h</text>
</g>
<g transform="translate(1068.1 300.9) rotate(75.8)">
<rect x="-38.2" y="-17.8" width="76.5" height="35.5" fill="#fff"/>
<text x="2" y="10.1" font-size="26" text-anchor="middle" fill="#2e2e2e">10 g/h</text>
</g>
<g transform="translate(1124 272.7) rotate(75.9)">
<rect x="-38.4" y="-17.8" width="76.8" height="35.5" fill="#fff"/>
<text x="2" y="10.1" font-size="26" text-anchor="middle" fill="#2e2e2e">20 g/h</text>
</g>
<g transform="translate(1178.9 262.4) rotate(77)">
<rect x="-38.2" y="-17.8" width="76.5" height="35.5" fill="#fff"/>
<text x="2" y="10.1" font-size="26" text-anchor="middle" fill="#2e2e2e">30 g/h</text>
</g>
<g transform="translate(1219.6 204) rotate(77)">
<rect x="-38.3" y="-17.8" width="76.6" height="35.5" fill="#fff"/>
<text x="2" y="10.1" font-size="26" text-anchor="middle" fill="#2e2e2e">40 g/h</text>
</g>
</g>
<path d="M750.2 478.4v5.5M750.2 13v-3.8M750.2 478.4h-5.5M1256.3 478.4h3.8M770.4 478.4v3M770.4 13v-2.1M750.2 459.8h-3M1256.3 459.8h2.1M790.7 478.4v3M790.7 13v-2.1M750.2 441.2h-3M1256.3 441.2h2.1M810.9 478.4v3M810.9 13v-2.1M750.2 422.6h-3M1256.3 422.6h2.1M831.2 478.4v3M831.2 13v-2.1M750.2 403.9h-3M1256.3 403.9h2.1M851.4 478.4v5.5M851.4 13v-3.8M750.2 385.3h-5.5M1256.3 385.3h3.8M871.7 478.4v3M871.7 13v-2.1M750.2 366.7h-3M1256.3 366.7h2.1M891.9 478.4v3M891.9 13v-2.1M750.2 348.1h-3M1256.3 348.1h2.1M912.2 478.4v3M912.2 13v-2.1M750.2 329.5h-3M1256.3 329.5h2.1M932.4 478.4v3M932.4 13v-2.1M750.2 310.9h-3M1256.3 310.9h2.1M952.6 478.4v5.5M952.6 13v-3.8M750.2 292.2h-5.5M1256.3 292.2h3.8M972.9 478.4v3M972.9 13v-2.1M750.2 273.6h-3M1256.3 273.6h2.1M993.1 478.4v3M993.1 13v-2.1M750.2 255h-3M1256.3 255h2.1M1013.4 478.4v3M1013.4 13v-2.1M750.2 236.4h-3M1256.3 236.4h2.1M1033.6 478.4v3M1033.6 13v-2.1M750.2 217.8h-3M1256.3 217.8h2.1M1053.9 478.4v5.5M1053.9 13v-3.8M750.2 199.2h-5.5M1256.3 199.2h3.8M1074.1 478.4v3M1074.1 13v-2.1M750.2 180.5h-3M1256.3 180.5h2.1M1094.3 478.4v3M1094.3 13v-2.1M750.2 161.9h-3M1256.3 161.9h2.1M1114.6 478.4v3M1114.6 13v-2.1M750.2 143.3h-3M1256.3 143.3h2.1M1134.8 478.4v3M1134.8 13v-2.1M750.2 124.7h-3M1256.3 124.7h2.1M1155.1 478.4v5.5M1155.1 13v-3.8M750.2 106.1h-5.5M1256.3 106.1h3.8M1175.3 478.4v3M1175.3 13v-2.1M750.2 87.5h-3M1256.3 87.5h2.1M1195.6 478.4v3M1195.6 13v-2.1M750.2 68.8h-3M1256.3 68.8h2.1M1215.8 478.4v3M1215.8 13v-2.1M750.2 50.2h-3M1256.3 50.2h2.1M1236.1 478.4v3M1236.1 13v-2.1M750.2 31.6h-3M1256.3 31.6h2.1M1256.3 478.4v5.5M1256.3 13v-3.8M750.2 13h-5.5M1256.3 13h3.8" stroke="#555" stroke-width="1.2" fill="none"/>
<rect x="750.2" y="13" width="506.1" height="465.4" fill="none" stroke="#101040" stroke-opacity="0.55" stroke-width="0.8"/>
<g font-size="28.4" fill="#2b2b2b">
<text x="749.7" y="514.3" text-anchor="middle">0</text>
<text x="740" y="488.5" text-anchor="end">0</text>
<text x="850.9" y="514.3" text-anchor="middle">20</text>
<text x="740" y="395.4" text-anchor="end">20</text>
<text x="952.1" y="514.3" text-anchor="middle">40</text>
<text x="740" y="302.3" text-anchor="end">40</text>
<text x="1053.4" y="514.3" text-anchor="middle">60</text>
<text x="740" y="209.3" text-anchor="end">60</text>
<text x="1154.6" y="514.3" text-anchor="middle">80</text>
<text x="740" y="116.2" text-anchor="end">80</text>
<text x="1255.8" y="514.3" text-anchor="middle">100</text>
<text x="740" y="23.1" text-anchor="end">100</text>
</g>
<text x="1002.9" y="542.2" font-size="28.9" text-anchor="middle" fill="#2b2b2b">Cathode RH</text>
<text transform="translate(678.5 246.6) rotate(-90)" font-size="28.5" text-anchor="middle" fill="#2b2b2b">Anode RH</text>
<text x="635" y="21.8" font-size="28.5" letter-spacing="2.1" fill="#2b2b2b">(b)</text>
</g>
</svg>
</body></html>
